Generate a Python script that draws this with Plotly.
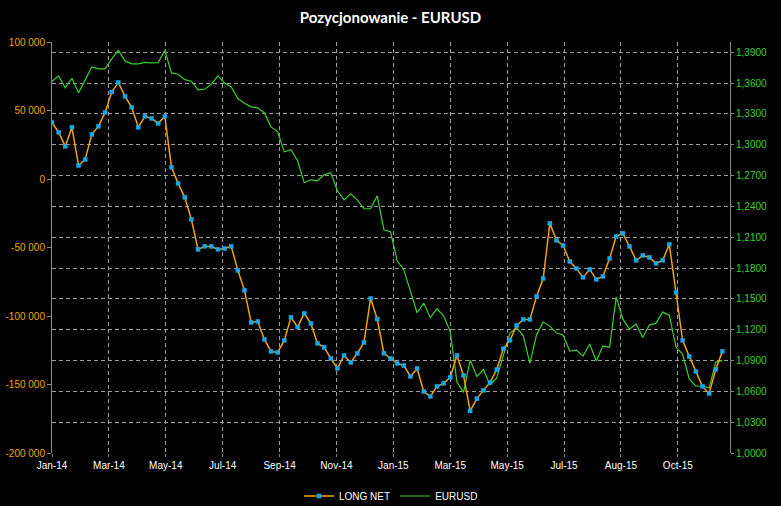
import plotly.graph_objects as go
import pandas as pd

# ---------------- data ----------------
start_date = "2014-01-07"   # first weekly observation

long_net = [
    41300, 34000, 23800, 37700, 9900, 14300, 32600, 38400, 48600, 63500,
    70500, 60300, 52300, 37700, 45700, 44200, 40600, 45700, 8500, -3200,
    -13400, -29500, -51400, -49200, -49200, -51400, -50700, -49200, -66700, -81300,
    -104700, -104000, -117100, -125900, -126600, -117800, -101000, -108000, -98100, -105400,
    -120000, -122900, -131000, -138300, -128800, -133900, -127300, -119300, -87200, -102200,
    -127300, -131000, -134600, -136100, -144100, -138300, -155100, -158700, -151400, -149200,
    -144800, -128800, -143400, -169300, -160300, -154300, -148500, -139100, -123800, -117800,
    -106900, -102500, -102500, -85700, -72600, -32400, -44800, -48500, -60200, -65300,
    -71800, -66000, -73300, -71100, -58000, -41900, -39700, -49200, -59400, -55800,
    -57200, -61600, -59400, -47700, -82800, -117800, -129500, -140500, -151400, -156500,
    -139000, -125800,
]

eurusd = [
    1.3615, 1.3670, 1.3554, 1.3647, 1.3505, 1.3634, 1.3758, 1.3738, 1.3738, 1.3836,
    1.3919, 1.3816, 1.3787, 1.3787, 1.3802, 1.3797, 1.3800, 1.3919, 1.3699, 1.3686,
    1.3634, 1.3618, 1.3534, 1.3540, 1.3590, 1.3670, 1.3600, 1.3563, 1.3450, 1.3404,
    1.3369, 1.3359, 1.3310, 1.3174, 1.3126, 1.2931, 1.2951, 1.2844, 1.2630, 1.2659,
    1.2649, 1.2707, 1.2727, 1.2552, 1.2464, 1.2523, 1.2464, 1.2377, 1.2377, 1.2503,
    1.2173, 1.2153, 1.1870, 1.1784, 1.1570, 1.1365, 1.1459, 1.1317, 1.1404, 1.1336,
    1.1181, 1.0692, 1.0590, 1.0905, 1.0745, 1.0811, 1.0662, 1.0730, 1.0950, 1.1165,
    1.1222, 1.1140, 1.0872, 1.1152, 1.1274, 1.1235, 1.1167, 1.1148, 1.0992, 1.1002,
    1.0943, 1.1060, 1.0895, 1.1041, 1.1028, 1.1517, 1.1303, 1.1206, 1.1255, 1.1125,
    1.1245, 1.1264, 1.1371, 1.1342, 1.1031, 1.0963, 1.0720, 1.0652, 1.0652, 1.0632,
    1.0885, 1.0902,
]

x_tick_labels = ["Jan-14", "Mar-14", "May-14", "Jul-14", "Sep-14", "Nov-14",
                 "Jan-15", "Mar-15", "May-15", "Jul-15", "Aug-15", "Oct-15"]
x_tick_step_days = 60
x_end = "2015-12-23"

left_ticks = [-200000, -150000, -100000, -50000, 0, 50000, 100000]
right_ticks = [1.00, 1.03, 1.06, 1.09, 1.12, 1.15, 1.18, 1.21, 1.24, 1.27, 1.30, 1.33, 1.36, 1.39]

# ---------------- derived ----------------
dates = pd.date_range(start_date, periods=len(long_net), freq="7D")
x_tick_vals = [pd.Timestamp(start_date) + pd.Timedelta(days=x_tick_step_days * i)
               for i in range(len(x_tick_labels))]
left_tick_text = [f"{v:,}".replace(",", " ") for v in left_ticks]
right_tick_text = [f"{v:.4f}".replace(".", ",") for v in right_ticks]

ORANGE = "#F0A30A"
BLUE = "#19A6E2"
GREEN = "#3ACF30"
GRID = "#9C9C9C"
AXIS = "#8A8A8A"
FONT = "Liberation Sans, Arial, sans-serif"

fig = go.Figure()
fig.add_trace(go.Scatter(
    x=dates, y=eurusd, name="EURUSD", mode="lines",
    line=dict(color=GREEN, width=1.2), yaxis="y", legendrank=2,
))
fig.add_trace(go.Scatter(
    x=dates, y=long_net, name="LONG NET", mode="lines+markers",
    line=dict(color=ORANGE, width=1.5),
    marker=dict(symbol="square", size=4.5, color=BLUE, line=dict(width=0)),
    yaxis="y2", legendrank=1,
))

fig.update_layout(
    width=781, height=506,
    paper_bgcolor="black", plot_bgcolor="black",
    margin=dict(l=52, r=51, t=42, b=53, autoexpand=False),
    font=dict(family=FONT, size=10, color="white"),
    title=dict(text="Pozycjonowanie - EURUSD", x=0.5, xanchor="center",
               y=1 - 18 / 506, yanchor="middle",
               font=dict(family="Lato, sans-serif",
                         size=15, color="white", weight=700)),
    showlegend=True,
    legend=dict(orientation="h", x=0.5, xanchor="center",
                yref="container", y=1 - 496 / 506, yanchor="middle",
                font=dict(family=FONT, size=10, color="white"),
                bgcolor="rgba(0,0,0,0)", itemwidth=30),
    xaxis=dict(
        type="date", range=[start_date, x_end], automargin=False,
        tickvals=x_tick_vals, ticktext=x_tick_labels,
        tickfont=dict(color="white", size=10),
        showgrid=True, gridcolor=GRID, gridwidth=1, griddash="4px,3px",
        showline=False, zeroline=False,
        ticks="outside", ticklen=3, tickcolor=AXIS,
    ),
    yaxis=dict(
        side="right", range=[1.0, 1.4], automargin=False,
        tickvals=right_ticks, ticktext=right_tick_text,
        tickfont=dict(color=GREEN, size=10),
        showgrid=True, gridcolor=GRID, gridwidth=1, griddash="4px,3px",
        showline=True, linecolor=AXIS, linewidth=1, mirror=False,
        ticks="outside", ticklen=3, tickcolor=AXIS, zeroline=False,
    ),
    yaxis2=dict(
        overlaying="y", side="left", range=[-200000, 100000], automargin=False,
        tickvals=left_ticks, ticktext=left_tick_text,
        tickfont=dict(color=ORANGE, size=10),
        showgrid=False, showline=True, linecolor=AXIS, linewidth=1,
        ticks="outside", ticklen=4, tickcolor=AXIS, zeroline=False,
    ),
)

fig.write_html("out.html")
